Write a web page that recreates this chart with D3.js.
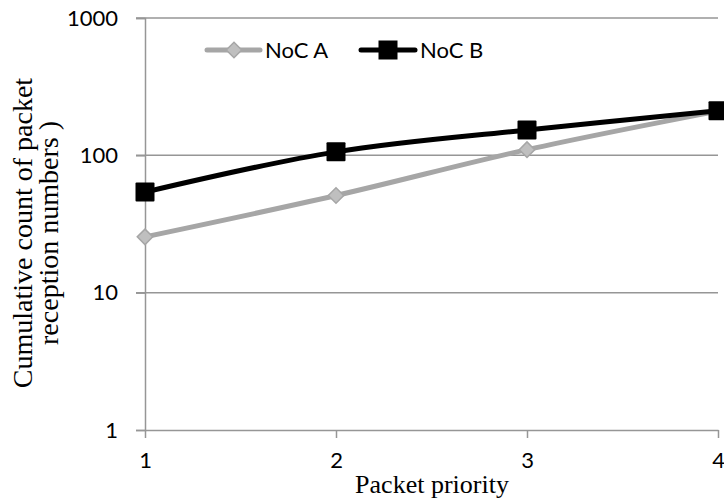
<!DOCTYPE html>
<html>
<head>
<meta charset="utf-8">
<script src="https://cdn.jsdelivr.net/npm/d3@7"></script>
<style>
  body { margin: 0; background: #fff; }
</style>
</head>
<body>
<div class="chart"></div>
<script>
// Paramètres de visualisation
const width = 724;
const height = 499;
const margin = { top: 18, right: 6, bottom: 69, left: 145 };

// Données
const priorities = [1, 2, 3, 4];
const nocA = [25.5, 51, 110, 210];
const nocB = [54, 106, 153, 211];
const yTicks = [1, 10, 100, 1000];
const seriesNames = ["NoC A", "NoC B"];

const svg = d3.select(".chart")
  .append("svg")
  .attr("width", width)
  .attr("height", height);

// Echelles
const x = d3.scaleLinear()
  .domain([1, 4])
  .range([margin.left, width - margin.right]);

const y = d3.scaleLog()
  .domain([1, 1000])
  .range([height - margin.bottom, margin.top]);

// Grille horizontale
svg.append("g")
  .selectAll("line")
  .data(yTicks.slice(1))
  .join("line")
  .attr("x1", margin.left - 9)
  .attr("x2", width - margin.right)
  .attr("y1", d => y(d))
  .attr("y2", d => y(d))
  .attr("stroke", "#969696")
  .attr("stroke-width", 1.5);

// Axe vertical
svg.append("g")
  .attr("transform", `translate(${margin.left}, 0)`)
  .call(d3.axisLeft(y).tickValues(yTicks).tickFormat(d3.format("d")).tickSize(9).tickPadding(18))
  .call(g => g.selectAll("line, path").attr("stroke", "#969696").attr("stroke-width", 1.5))
  .call(g => g.selectAll("text").attr("font-family", "Lato").attr("font-size", 22).attr("fill", "#000"));

// Axe horizontal
svg.append("g")
  .attr("transform", `translate(0, ${height - margin.bottom})`)
  .call(d3.axisBottom(x).tickValues(priorities).tickFormat(d3.format("d")).tickSize(8).tickSizeOuter(0).tickPadding(14))
  .call(g => g.selectAll("line, path").attr("stroke", "#969696").attr("stroke-width", 1.5))
  .call(g => g.selectAll("text").attr("font-family", "Lato").attr("font-size", 22).attr("fill", "#000"));

// Titres des axes
svg.append("text")
  .attr("x", 432)
  .attr("y", 493)
  .attr("text-anchor", "middle")
  .attr("font-family", "Liberation Serif")
  .attr("font-size", 26)
  .text("Packet priority");

const yTitle = svg.append("text")
  .attr("transform", "translate(0, 233) rotate(-90)")
  .attr("text-anchor", "middle")
  .attr("font-family", "Liberation Serif")
  .attr("font-size", 28);
yTitle.append("tspan").attr("x", 0).attr("y", 32).text("Cumulative count of packet");
yTitle.append("tspan").attr("x", 0).attr("y", 58).text("reception numbers )");

// Lignes
const line = d3.line()
  .x((d, i) => x(priorities[i]))
  .y(d => y(d))
  .curve(d3.curveCatmullRom);

svg.append("path")
  .datum(nocA)
  .attr("d", line)
  .attr("fill", "none")
  .attr("stroke", "#a6a6a6")
  .attr("stroke-width", 5);

svg.append("path")
  .datum(nocB)
  .attr("d", line)
  .attr("fill", "none")
  .attr("stroke", "#000")
  .attr("stroke-width", 5);

// Marqueurs
const diamond = d3.symbol().type(d3.symbolSquare).size(120);

svg.append("g")
  .selectAll("path")
  .data(nocA)
  .join("path")
  .attr("transform", (d, i) => `translate(${x(priorities[i])}, ${y(d)}) rotate(45)`)
  .attr("d", diamond)
  .attr("fill", "#bfbfbf")
  .attr("stroke", "#a6a6a6")
  .attr("stroke-width", 1.5);

svg.append("g")
  .selectAll("rect")
  .data(nocB)
  .join("rect")
  .attr("x", (d, i) => x(priorities[i]) - 9.5)
  .attr("y", d => y(d) - 9.5)
  .attr("width", 19)
  .attr("height", 19)
  .attr("rx", 1)
  .attr("fill", "#000");

// Légende
const legend = svg.append("g").attr("font-family", "Lato").attr("font-size", 22);

const legA = legend.append("g").attr("transform", "translate(207, 50)");
legA.append("line").attr("x1", 0).attr("x2", 53).attr("stroke", "#a6a6a6").attr("stroke-width", 5).attr("stroke-linecap", "round");
legA.append("path").attr("transform", "translate(27, 0) rotate(45)")
  .attr("d", diamond)
  .attr("fill", "#bfbfbf").attr("stroke", "#a6a6a6").attr("stroke-width", 1.5);
legA.append("text").attr("x", 58).attr("dy", "0.36em").text(seriesNames[0]);

const legB = legend.append("g").attr("transform", "translate(361, 50)");
legB.append("line").attr("x1", 0).attr("x2", 54).attr("stroke", "#000").attr("stroke-width", 5).attr("stroke-linecap", "round");
legB.append("rect").attr("x", 27 - 9.5).attr("y", -9.5).attr("width", 19).attr("height", 19).attr("fill", "#000");
legB.append("text").attr("x", 59).attr("dy", "0.36em").text(seriesNames[1]);
</script>
</body>
</html>
